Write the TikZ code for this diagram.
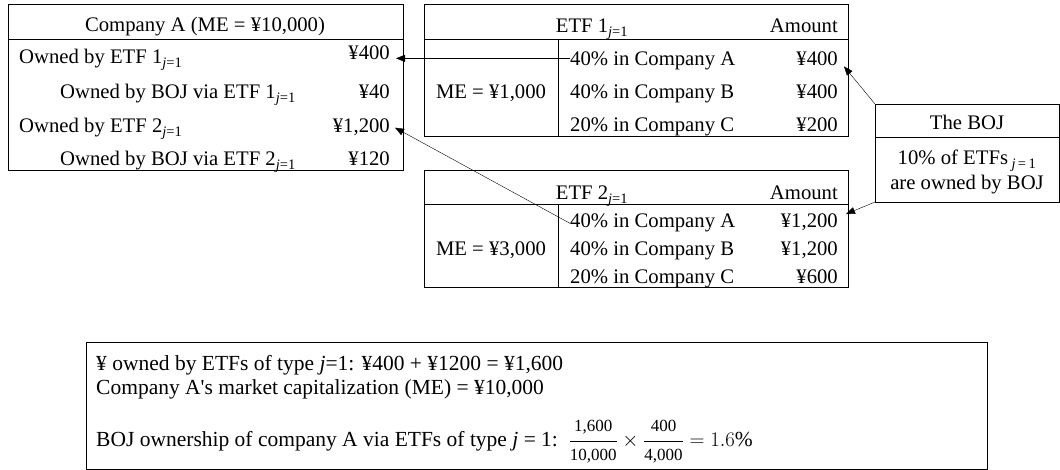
\documentclass[tikz,border=0pt]{standalone}
\usepackage{fontspec}
\setmainfont{Liberation Serif}
\usetikzlibrary{arrows.meta}
\tikzset{
  txt/.style={font=\fontsize{20.7}{24}\selectfont, inner sep=0pt},
  lft/.style={txt, anchor=base west},
  rgt/.style={txt, anchor=base east},
  mid/.style={txt, anchor=base},
  sumtxt/.style={font=\fontsize{21.5}{25}\selectfont, inner sep=0pt, anchor=base west},
  ptr/.style={-{Triangle[length=9pt,width=7pt]}}
}
\newcommand{\jone}{\textsubscript{\textit{j}=1}}
\newcommand{\smallnum}[1]{\hbox{\fontsize{17}{18}\selectfont #1}}
\begin{document}
\begin{tikzpicture}[x=1pt,y=-1pt]
    \useasboundingbox (0,0) rectangle (1060,470);

    \def\companybox{(8,4) rectangle (403,170)}
    \def\etfonebox{(424,4) rectangle (848,136)}
    \def\etftwobox{(424,170) rectangle (848,287)}
    \def\bojbox{(875,104) rectangle (1059,202)}
    \def\sumbox{(86,342) rectangle (987,469)}

    %draw boxes:
    \draw \companybox (8,39) -- (403,39);
    \draw \etfonebox (424,39) -- (848,39) (558,39) -- (558,136);
    \draw \etftwobox (424,204) -- (848,204) (558,204) -- (558,287);
    \draw \bojbox (875,137) -- (1059,137);
    \draw \sumbox;
    \coordinate (bojtop) at (875,104);
    \coordinate (bojbot) at (875,202);

    %company A:
    \node[mid] (cA) at (205,32) {Company A (ME = ¥10,000)};
    \node[lft] (cA1) at (19,64) {Owned by ETF 1\jone};
    \node[rgt] (cA1v) at (390,60) {¥400};
    \node[lft] (cA2) at (60,99) {Owned by BOJ via ETF 1\jone};
    \node[rgt] (cA2v) at (390,99) {¥40};
    \node[lft] (cA3) at (19,133) {Owned by ETF 2\jone};
    \node[rgt] (cA3v) at (390,133) {¥1,200};
    \node[lft] (cA4) at (60,166) {Owned by BOJ via ETF 2\jone};
    \node[rgt] (cA4v) at (390,166) {¥120};

    %ETF 1:
    \node[mid] (e1) at (592,33) {ETF 1\jone};
    \node[rgt] (e1h) at (838,33) {Amount};
    \node[mid] (e1me) at (491,99) {ME = ¥1,000};
    \node[lft] (e1A) at (570,66) {40\% in Company A};
    \node[rgt] (e1Av) at (838,66) {¥400};
    \node[lft] (e1B) at (570,99) {40\% in Company B};
    \node[rgt] (e1Bv) at (838,99) {¥400};
    \node[lft] (e1C) at (570,132) {20\% in Company C};
    \node[rgt] (e1Cv) at (838,132) {¥200};

    %ETF 2:
    \node[mid] (e2) at (592,200) {ETF 2\jone};
    \node[rgt] (e2h) at (838,200) {Amount};
    \node[mid] (e2me) at (491,256) {ME = ¥3,000};
    \node[lft] (e2A) at (570,228) {40\% in Company A};
    \node[rgt] (e2Av) at (838,228) {¥1,200};
    \node[lft] (e2B) at (570,256) {40\% in Company B};
    \node[rgt] (e2Bv) at (838,256) {¥1,200};
    \node[lft] (e2C) at (570,284) {20\% in Company C};
    \node[rgt] (e2Cv) at (838,284) {¥600};

    %the BOJ:
    \node[mid] (boj) at (967,130) {The BOJ};
    \node[mid] (boj1) at (967,165) {10\% of ETFs\,\textsubscript{\textit{j}\,=\,1}};
    \node[mid] (boj2) at (967,190) {are owned by BOJ};

    %summary:
    \node[sumtxt] (s1) at (96,370) {¥ owned by ETFs of type \textit{j}=1: ¥400 + ¥1200 = ¥1,600};
    \node[sumtxt] (s2) at (96,394) {Company A\textquotesingle s market capitalization (ME) = ¥10,000};
    \node[sumtxt] (s3) at (96,446) {BOJ ownership of company A via ETFs of type \textit{j} = 1:\enspace
        $\displaystyle\frac{\smallnum{1,600}}{\smallnum{10,000}}\times\frac{\smallnum{400}}{\smallnum{4,000}} = 1.6\%$};

    %draw arrows:
    \draw[ptr] ([yshift=3pt]e1A.west) -- ([xshift=6pt,yshift=3pt]e1A.west -| cA1v.east);
    \draw[ptr] (e2A.west) -- ([xshift=5pt]cA3v.east);
    \draw[ptr] (bojtop) -- ([xshift=6pt]e1Av.south east);
    \draw[ptr] (bojbot) -- ([xshift=8pt]e2Av.north east);

\end{tikzpicture}
\end{document}
